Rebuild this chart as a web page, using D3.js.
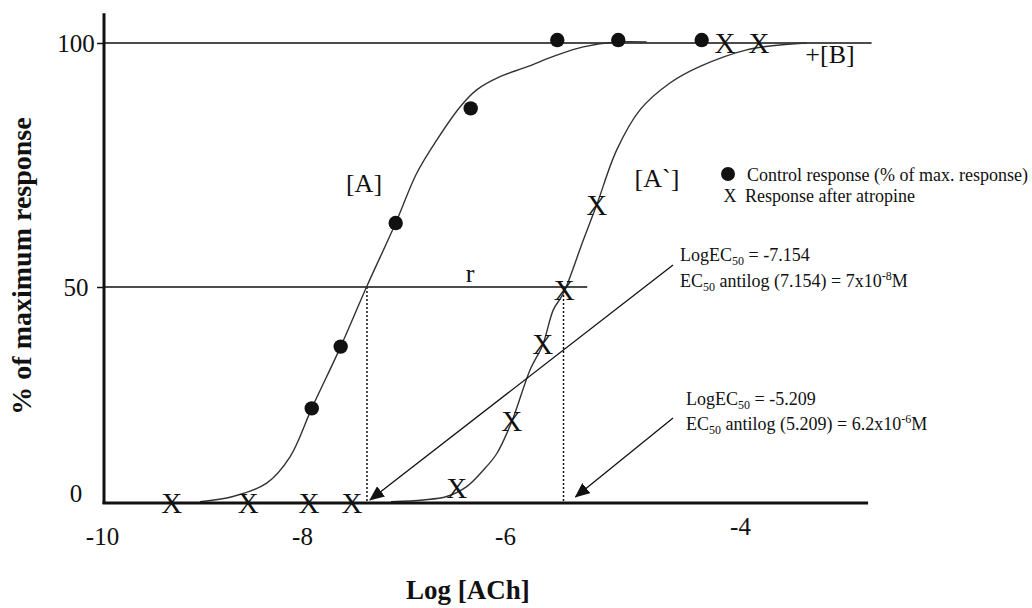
<!DOCTYPE html>
<html>
<head>
<meta charset="utf-8">
<script src="https://cdn.jsdelivr.net/npm/d3@7/dist/d3.min.js"></script>
<style>
  html, body { margin: 0; padding: 0; background: #fff; }
  svg { display: block; }
  svg text { font-family: "Liberation Serif", "DejaVu Serif", serif; fill: #111; }
</style>
</head>
<body>
<svg id="chart" width="1032" height="608" font-family="Liberation Serif, DejaVu Serif, serif"></svg>
<script>
// ---------------- data ----------------
const xTicks = [-10, -8, -6, -4];
const yTicks = [0, 50, 100];

// Control response (% of max. response) — filled dots
const controlLogConc = [-7.904, -7.619, -7.077, -6.338, -5.555, -5.036, -4.326];
const controlResp    = [21.9, 36.2, 63.1, 86.6, 100.6, 100.6, 100.6];

// Response after atropine — "X" marks
const atropineLogConc = [-9.316, -8.542, -7.931, -7.507, -6.476, -5.943, -5.679, -5.495, -5.220, -4.128, -3.838];
const atropineResp    = [0, 0, 0, 0, 3.4, 18.8, 36.6, 49.3, 66.8, 100, 100];

// Hand-drawn fitted curve [A] (control)
const curveALogConc = [-9.030, -8.697, -8.357, -8.121, -7.904, -7.619, -7.362, -7.077, -6.870, -6.673, -6.443, -6.279, -6.049, -5.815, -5.560, -5.333, -5.049, -4.794];
const curveAResp    = [0.3, 1.5, 4.6, 10.7, 21.9, 36.2, 50.1, 63.1, 73.3, 80.1, 86.9, 90.4, 93.1, 95.1, 97.5, 99.2, 100.2, 100.2];

// Hand-drawn fitted curve [A`] (after atropine)
const curveBLogConc = [-7.123, -6.805, -6.575, -6.378, -6.214, -6.082, -5.943, -5.787, -5.679, -5.589, -5.504, -5.334, -5.220, -5.049, -4.851, -4.596, -4.340, -3.943, -3.660, -3.433];
const curveBResp    = [0.3, 0.7, 1.5, 3.8, 7.6, 11.4, 18.8, 30.8, 36.6, 44.7, 48.5, 59.6, 66.8, 78.1, 86.3, 91.8, 95.2, 98.6, 99.6, 100];

// EC50 markers as drawn (dotted drop lines)
const ec50Drawn = [-7.36, -5.502];
// Reference lines: 100% (full width) and 50% (up to curve A`)
const refLevels = [100, 50];
const refLineEnd = [-2.88, -5.30];

// Arrow annotations: start (logConc, resp) -> end (logConc, resp)
const arrowStartX = [-4.570, -4.570];
const arrowStartY = [54.5, 19.7];
const arrowEndX   = [-7.33, -5.40];
const arrowEndY   = [0.7, 1.4];

const xAxisEnd = -2.91;
const yAxisTop = 106.1;

// ---------------- scales ----------------
const svg = d3.select("#chart");
const x = d3.scaleLinear().domain(xTicks).range([104, 302, 505, 740]);
const y = d3.scaleLinear().domain(yTicks).range([503, 287, 43]);

const ink = "#111";
const SERIF = '"Liberation Serif", "DejaVu Serif", serif';

// marker for arrows
svg.append("defs").append("marker")
  .attr("id", "tri")
  .attr("viewBox", "0 0 15 13")
  .attr("refX", 14).attr("refY", 6.5)
  .attr("markerWidth", 15).attr("markerHeight", 13)
  .attr("markerUnits", "userSpaceOnUse")
  .attr("orient", "auto")
  .append("path").attr("d", "M0,0 L15,6.5 L0,13 Z").attr("fill", ink);

// reference horizontal lines
svg.append("g").selectAll("line").data(refLevels).join("line")
  .attr("x1", x(-10)).attr("x2", (d, i) => x(refLineEnd[i]))
  .attr("y1", d => y(d)).attr("y2", d => y(d))
  .attr("stroke", ink).attr("stroke-width", 1.5);

// dotted EC50 drop lines
svg.append("g").selectAll("line").data(ec50Drawn).join("line")
  .attr("x1", d => x(d)).attr("x2", d => x(d))
  .attr("y1", y(50)).attr("y2", y(0))
  .attr("stroke", ink).attr("stroke-width", 1.5)
  .attr("stroke-dasharray", "2,2");

// curves
const line = d3.line().x(d => x(d[0])).y(d => y(d[1])).curve(d3.curveCatmullRom.alpha(0.5));
svg.append("path")
  .datum(curveALogConc.map((v, i) => [v, curveAResp[i]]))
  .attr("d", line).attr("fill", "none").attr("stroke", "#333").attr("stroke-width", 1.4);
svg.append("path")
  .datum(curveBLogConc.map((v, i) => [v, curveBResp[i]]))
  .attr("d", line).attr("fill", "none").attr("stroke", "#333").attr("stroke-width", 1.4);

// arrows
svg.append("g").selectAll("line").data(arrowStartX).join("line")
  .attr("x1", d => x(d)).attr("y1", (d, i) => y(arrowStartY[i]))
  .attr("x2", (d, i) => x(arrowEndX[i])).attr("y2", (d, i) => y(arrowEndY[i]))
  .attr("stroke", ink).attr("stroke-width", 1.3)
  .attr("marker-end", "url(#tri)");

// axes lines
svg.append("line").attr("x1", x(-10)).attr("x2", x(-10)).attr("y1", y(yAxisTop)).attr("y2", y(0) + 1)
  .attr("stroke", ink).attr("stroke-width", 3);
svg.append("line").attr("x1", x(-10) - 1.5).attr("x2", x(xAxisEnd)).attr("y1", y(0)).attr("y2", y(0))
  .attr("stroke", ink).attr("stroke-width", 3);

// y axis ticks + labels
const yAx = svg.append("g").attr("transform", `translate(${x(-10)},0)`)
  .call(d3.axisLeft(y).tickValues(yTicks).tickSize(7).tickPadding(0).tickFormat(d => String(d)));
yAx.attr("font-family", null).attr("font-size", null);
yAx.select(".domain").remove();
yAx.selectAll(".tick line").attr("stroke", ink).attr("stroke-width", 1.5)
  .attr("opacity", d => d === 0 ? 0 : 1);
yAx.selectAll(".tick text")
  .attr("x", -28).attr("dy", d => d === 0 ? "-0.05em" : "0.32em")
  .attr("text-anchor", "middle")
  .attr("font-family", SERIF).style("font-family", SERIF).style("font-size", "25px").attr("fill", ink);

// x axis labels
const xAx = svg.append("g").attr("transform", `translate(0,${y(0)})`)
  .call(d3.axisBottom(x).tickValues(xTicks).tickSize(0).tickPadding(0).tickFormat(d => String(d)));
xAx.attr("font-family", null).attr("font-size", null);
xAx.select(".domain").remove();
xAx.selectAll(".tick text")
  .attr("y", d => d === -4 ? 24 : 34).attr("dy", "0.32em")
  .attr("font-family", SERIF).style("font-family", SERIF).style("font-size", "25px").attr("fill", ink);
xAx.select(".tick text").attr("transform", "translate(-2,0)");

// data points: control dots
svg.append("g").selectAll("circle").data(controlLogConc).join("circle")
  .attr("cx", d => x(d)).attr("cy", (d, i) => y(controlResp[i])).attr("r", 7.2).attr("fill", ink);

// data points: atropine X marks
svg.append("g").selectAll("text").data(atropineLogConc).join("text")
  .attr("x", d => x(d)).attr("y", (d, i) => y(atropineResp[i]))
  .attr("dy", "0.33em").attr("text-anchor", "middle")
  .style("font-size", "29px").text("X");

// axis titles
svg.append("text").attr("transform", "translate(31,266) rotate(-90)")
  .attr("text-anchor", "middle").style("font-size", "28px").style("font-weight", "bold")
  .text("% of maximum response");
svg.append("text").attr("x", 468).attr("y", 599)
  .attr("text-anchor", "middle").style("font-size", "27px").style("font-weight", "bold")
  .text("Log [ACh]");

// curve labels
const big = [["[A]", 364, 192], ["[A`]", 657, 187], ["r", 470, 282], ["+[B]", 830, 63]];
svg.append("g").selectAll("text").data(big).join("text")
  .attr("x", d => d[1]).attr("y", d => d[2]).attr("text-anchor", "middle")
  .style("font-size", "26px").text(d => d[0]);

// legend
svg.append("circle").attr("cx", 728).attr("cy", 174).attr("r", 7).attr("fill", ink);
svg.append("text").attr("x", 747).attr("y", 181).style("font-size", "18px")
  .text("Control response (% of max. response)");
svg.append("text").attr("x", 730).attr("y", 202).attr("text-anchor", "middle").style("font-size", "18px").text("X");
svg.append("text").attr("x", 745).attr("y", 202).style("font-size", "18px").text("Response after atropine");

// EC50 annotations
function ecLines(x0, yb1, yb2, logTxt, antiTxt, mant, expo) {
  const t1 = svg.append("text").attr("x", x0).attr("y", yb1).style("font-size", "18px");
  t1.append("tspan").text("LogEC");
  t1.append("tspan").attr("dy", 4).style("font-size", "12px").text("50");
  t1.append("tspan").attr("dy", -4).text(" = " + logTxt);
  const t2 = svg.append("text").attr("x", x0).attr("y", yb2).style("font-size", "18px");
  t2.append("tspan").text("EC");
  t2.append("tspan").attr("dy", 4).style("font-size", "12px").text("50");
  t2.append("tspan").attr("dy", -4).text(" antilog (" + antiTxt + ") = " + mant + "x10");
  t2.append("tspan").attr("dy", -7).style("font-size", "12px").text(expo);
  t2.append("tspan").attr("dy", 7).text("M");
}
ecLines(680, 261, 287, "-7.154", "7.154", "7", "-8");
ecLines(686, 405, 430, "-5.209", "5.209", "6.2", "-6");
</script>
</body>
</html>
